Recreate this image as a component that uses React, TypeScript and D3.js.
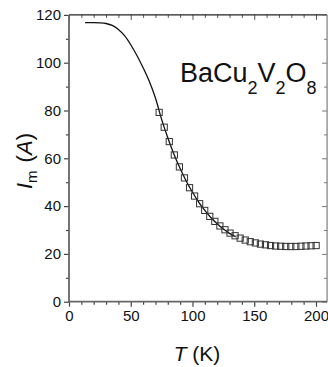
import { useEffect, useRef } from 'react'
import * as d3 from 'd3'

// measured points (open squares)
const tempPts = [73.0, 77.1, 81.2, 85.3, 89.4, 93.5, 97.6, 101.7, 105.8, 109.9, 114.0, 118.1, 122.2, 126.3, 130.4, 134.5,
  138.6, 142.7, 146.8, 150.9, 155.0, 159.1, 163.2, 167.3, 171.4, 175.5, 179.6, 183.7, 187.8, 191.9, 196.0, 200.1]
const imPts = [79.2, 73.0, 67.0, 61.4, 56.4, 51.8, 47.7, 44.2, 41.0, 38.2, 35.7, 33.6, 31.7, 30.1, 28.7, 27.6,
  26.6, 25.8, 25.1, 24.6, 24.1, 23.8, 23.5, 23.3, 23.2, 23.1, 23.1, 23.1, 23.2, 23.3, 23.4, 23.5]

// fit curve
const tempFit = [13, 20, 25, 30, 35, 40, 45, 50, 55, 60, 65, 70, 75, 80, 85, 90, 95, 100, 105, 110, 115, 120, 125, 130, 135]
const imFit = [116.8, 116.8, 116.7, 116.4, 115.6, 113.9, 111.3, 107.5, 103.0, 97.9, 92.2, 85.2, 76.3, 68.6, 61.7, 55.7,
  50.4, 45.8, 41.7, 38.2, 35.1, 32.6, 30.4, 28.6, 27.2]

const xTicks = [0, 50, 100, 150, 200]
const yTicks = [0, 20, 40, 60, 80, 100, 120]

const FONT = '"Liberation Sans", Arial, sans-serif'

export default function App() {
  const ref = useRef<SVGSVGElement>(null)

  useEffect(() => {
    const svg = d3.select(ref.current!)
    svg.selectAll('*').remove()
    const W = 328, H = 367
    const x = d3.scaleLinear().domain([0, 209]).range([69, 327.1])
    const y = d3.scaleLinear().domain([0, 120]).range([301.7, 14.9])
    const [x0, x1] = x.range(), [y0, y1] = y.range()
    svg.attr('width', W).attr('height', H)

    const xMinor = d3.range(0, 210, 10).filter(v => v % 50 !== 0)
    const yMinor = d3.range(10, 120, 20)

    // frame: top + right with inward ticks
    const top = svg.append('g').attr('transform', `translate(0,${y1})`)
    top.call(d3.axisBottom(x).tickValues(xTicks).tickSize(5).tickSizeOuter(0).tickFormat(() => ''))
    top.append('g').call(d3.axisBottom(x).tickValues(xMinor).tickSize(3).tickSizeOuter(0).tickFormat(() => ''))
    top.selectAll('.domain').remove()
    top.selectAll('line').attr('stroke', '#555')
    top.append('line').attr('x1', x0).attr('x2', x1).attr('y1', 0).attr('y2', 0).attr('stroke', '#222').attr('stroke-width', 1.2)

    const right = svg.append('g').attr('transform', `translate(${x1},0)`)
    right.call(d3.axisLeft(y).tickValues(yTicks).tickSize(5).tickSizeOuter(0).tickFormat(() => ''))
    right.append('g').call(d3.axisLeft(y).tickValues(yMinor).tickSize(3).tickSizeOuter(0).tickFormat(() => ''))
    right.selectAll('.domain').remove()
    right.selectAll('line').attr('stroke', '#777')
    right.append('line').attr('x1', 0).attr('x2', 0).attr('y1', y0).attr('y2', y1).attr('stroke', '#888').attr('stroke-width', 1.3)

    // bottom axis
    const bot = svg.append('g').attr('transform', `translate(0,${y0})`)
    bot.call(d3.axisBottom(x).tickValues(xTicks).tickSize(5).tickSizeOuter(0).tickPadding(4))
    bot.append('g').call(d3.axisBottom(x).tickValues(xMinor).tickSize(3).tickSizeOuter(0).tickFormat(() => ''))
    bot.selectAll('.domain').remove()
    bot.selectAll('line').attr('stroke', '#444').attr('stroke-width', 1.2)
    bot.selectAll('text').attr('font-family', FONT).attr('font-size', 15).attr('fill', '#111')
    bot.append('line').attr('x1', x0 - 1).attr('x2', x1).attr('y1', 0).attr('y2', 0).attr('stroke', '#666').attr('stroke-width', 1.8)

    // left axis
    const left = svg.append('g').attr('transform', `translate(${x0},0)`)
    left.call(d3.axisLeft(y).tickValues(yTicks).tickSize(5).tickSizeOuter(0).tickPadding(3))
    left.append('g').call(d3.axisLeft(y).tickValues(yMinor).tickSize(3).tickSizeOuter(0).tickFormat(() => ''))
    left.selectAll('.domain').remove()
    left.selectAll('line').attr('stroke', '#444').attr('stroke-width', 1.2)
    left.selectAll('text').attr('font-family', FONT).attr('font-size', 15).attr('fill', '#111')
    left.append('line').attr('x1', 0).attr('x2', 0).attr('y1', y0 + 1).attr('y2', y1).attr('stroke', '#666').attr('stroke-width', 1.8)

    // fit line
    const line = d3.line<number>().x((_, i) => x(tempFit[i])).y(d => y(d)).curve(d3.curveMonotoneX)
    svg.append('path').datum(imFit).attr('d', line).attr('fill', 'none').attr('stroke', '#111').attr('stroke-width', 1.3)

    // squares
    const s = 6.2
    svg.append('g').selectAll('rect').data(imPts).join('rect')
      .attr('x', (_, i) => x(tempPts[i]) - s / 2).attr('y', d => y(d) - s / 2)
      .attr('width', s).attr('height', s)
      .attr('fill', 'none').attr('stroke', '#333').attr('stroke-width', 1)

    // compound label
    const t = svg.append('text').attr('x', 180).attr('y', 82).attr('font-family', FONT).attr('font-size', 27).attr('fill', '#111')
    t.append('tspan').text('BaCu')
    t.append('tspan').attr('font-size', 18).attr('dy', 12).text('2')
    t.append('tspan').attr('dy', -12).text('V')
    t.append('tspan').attr('font-size', 18).attr('dy', 12).text('2')
    t.append('tspan').attr('dy', -12).text('O')
    t.append('tspan').attr('font-size', 18).attr('dy', 12).text('8')

    // axis titles
    const yl = svg.append('text').attr('transform', 'translate(32,189) rotate(-90)')
      .attr('font-family', FONT).attr('font-size', 22).attr('fill', '#111')
    yl.append('tspan').attr('font-style', 'italic').text('I')
    yl.append('tspan').attr('font-size', 15).attr('dy', 5).text('m')
    yl.append('tspan').attr('dy', -5).attr('dx', 8).text('(')
    yl.append('tspan').attr('font-style', 'italic').text('A')
    yl.append('tspan').text(')')

    const xl = svg.append('text').attr('x', 197).attr('y', 361).attr('text-anchor', 'middle')
      .attr('font-family', FONT).attr('font-size', 21).attr('fill', '#111')
    xl.append('tspan').attr('font-style', 'italic').text('T')
    xl.append('tspan').text(' (K)')
  }, [])

  return <svg ref={ref} style={{ position: 'absolute', left: 0, top: 0, background: '#fff' }} />
}
